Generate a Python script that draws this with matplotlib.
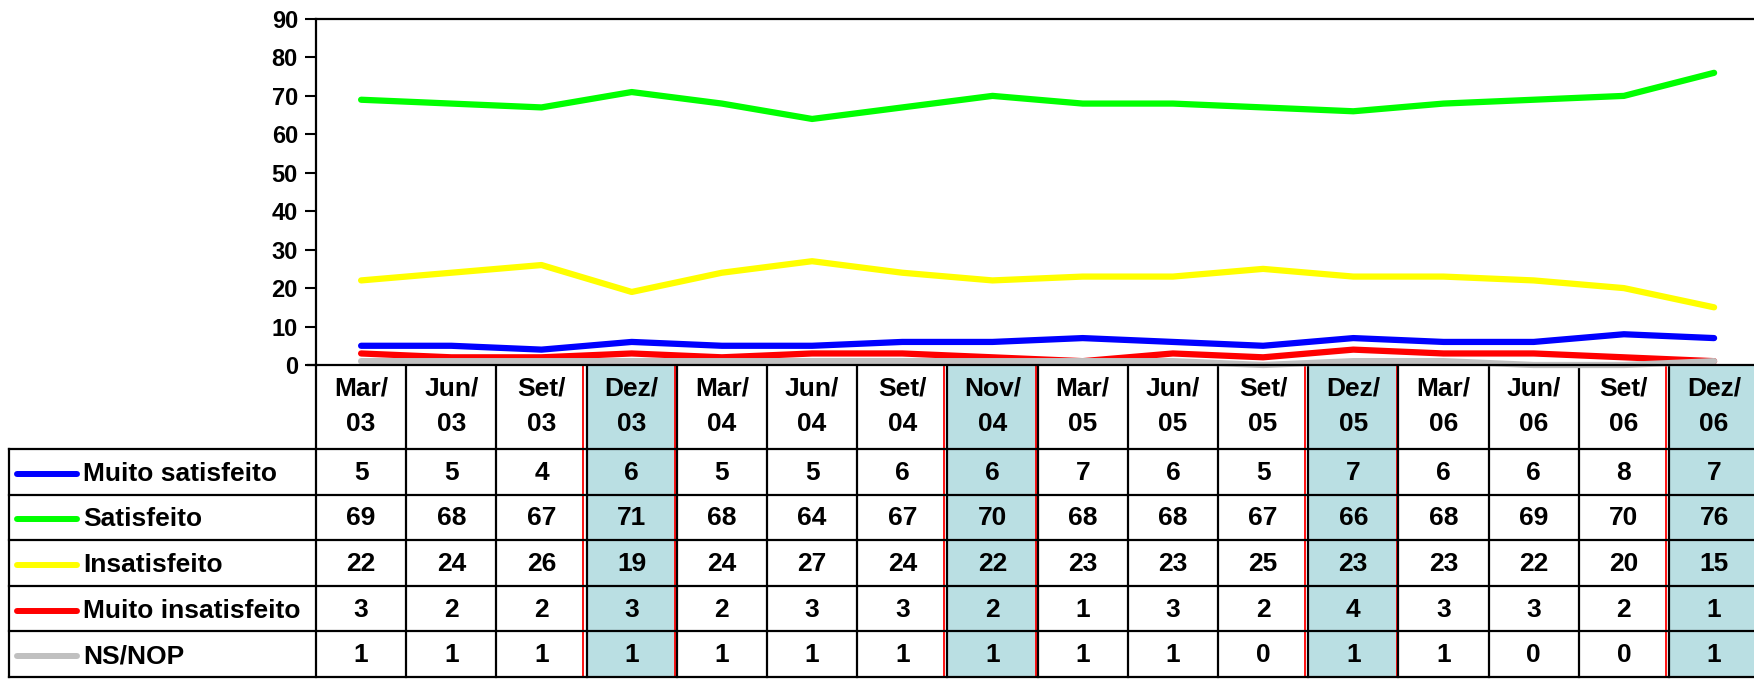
import matplotlib
matplotlib.use("Agg")
import matplotlib.pyplot as plt
from matplotlib.transforms import blended_transform_factory
from matplotlib.patches import Rectangle

plt.rcParams['font.family'] = ['Liberation Sans', 'DejaVu Sans']
plt.rcParams['font.weight'] = 'bold'

PERIODS = ["Mar/03", "Jun/03", "Set/03", "Dez/03", "Mar/04", "Jun/04", "Set/04", "Nov/04",
           "Mar/05", "Jun/05", "Set/05", "Dez/05", "Mar/06", "Jun/06", "Set/06", "Dez/06"]
HIGHLIGHT = [3, 7, 11, 15]

SERIES = ["Muito satisfeito", "Satisfeito", "Insatisfeito", "Muito insatisfeito", "NS/NOP"]
MUITO_SATISFEITO = [5, 5, 4, 6, 5, 5, 6, 6, 7, 6, 5, 7, 6, 6, 8, 7]
SATISFEITO = [69, 68, 67, 71, 68, 64, 67, 70, 68, 68, 67, 66, 68, 69, 70, 76]
INSATISFEITO = [22, 24, 26, 19, 24, 27, 24, 22, 23, 23, 25, 23, 23, 22, 20, 15]
MUITO_INSATISFEITO = [3, 2, 2, 3, 2, 3, 3, 2, 1, 3, 2, 4, 3, 3, 2, 1]
NS_NOP = [1, 1, 1, 1, 1, 1, 1, 1, 1, 1, 0, 1, 1, 0, 0, 1]
VALUES = [MUITO_SATISFEITO, SATISFEITO, INSATISFEITO, MUITO_INSATISFEITO, NS_NOP]
COLORS = ["#0000FF", "#00FF00", "#FFFF00", "#FF0000", "#C0C0C0"]

W, H = 1754, 679
X_AX = 316          # y-axis position (px)
Y_TOP, Y_ZERO = 19, 365
COL_W = 90.2
HEAD_BOT = 449
ROW_H = (677 - HEAD_BOT) / 5
LEG_X = 9
HL_FILL = "#BADFE3"

fig = plt.figure(figsize=(W / 100, H / 100), dpi=100)

# table layer in pixel coordinates
tab = fig.add_axes([0, 0, 1, 1])
tab.set_xlim(0, W); tab.set_ylim(H, 0)
tab.axis("off")

ax = fig.add_axes([X_AX / W, 1 - Y_ZERO / H, 1 - X_AX / W, (Y_ZERO - Y_TOP) / H])
ax.patch.set_alpha(0)
n = len(PERIODS)
ax.set_xlim(-0.5, -0.5 + (W - X_AX) / COL_W)
ax.set_ylim(0, 90)
ax.set_yticks(range(0, 91, 10))
ax.set_xticks([])
ax.tick_params(axis="y", direction="out", length=8, width=1.5, labelsize=17, pad=5)
for s in ["left", "bottom", "top"]:
    ax.spines[s].set_linewidth(1.6)
ax.spines["right"].set_visible(False)
ax.spines["bottom"].set_bounds(-0.5 - 8 / COL_W, 20)

xs = list(range(n))
for vals, c in zip(VALUES, COLORS):
    ax.plot(xs, vals, color=c, lw=4.5, solid_capstyle="round", solid_joinstyle="round", clip_on=False)

trans = blended_transform_factory(ax.transData, tab.transData)

# highlighted columns
off = 3.5 / COL_W
for i in HIGHLIGHT:
    tab.add_patch(Rectangle((i - 0.5, Y_ZERO), 1, 677 - Y_ZERO, transform=trans,
                            facecolor=HL_FILL, edgecolor="none", zorder=0))
    for xb in (i - 0.5 - off, i + 0.5 - off / 2):
        tab.plot([xb, xb], [Y_ZERO + 1, 677], color="#FF0000", lw=1.3, transform=trans, zorder=1)

# grid
for b in range(n):
    tab.plot([b - 0.5, b - 0.5], [Y_ZERO, 677], color="black", lw=1.6, transform=trans, zorder=2)
row_edges = [HEAD_BOT + k * ROW_H for k in range(6)]
for y in row_edges:
    tab.plot([LEG_X, W], [y, y], color="black", lw=1.6, zorder=2)
tab.plot([LEG_X, LEG_X], [HEAD_BOT, 677], color="black", lw=1.6, zorder=2)

# header
for i, p in enumerate(PERIODS):
    m, yr = p.split("/")
    tab.text(i, 388, m + "/", transform=trans, ha="center", va="center", fontsize=19, fontweight="bold")
    tab.text(i, 424, yr, transform=trans, ha="center", va="center", fontsize=19, fontweight="bold")

# rows
for r, (name, vals, c) in enumerate(zip(SERIES, VALUES, COLORS)):
    yc = HEAD_BOT + (r + 0.5) * ROW_H
    tab.plot([17, 77], [yc + 2, yc + 2], color=c, lw=4.3, solid_capstyle="round", zorder=3)
    tab.text(83, yc + 2, name, ha="left", va="center", fontsize=19, fontweight="bold")
    for i, v in enumerate(vals):
        tab.text(i, yc + 1, str(v), transform=trans, ha="center", va="center",
                 fontsize=19, fontweight="bold")

fig.savefig("out.png", dpi=100, facecolor="white")
